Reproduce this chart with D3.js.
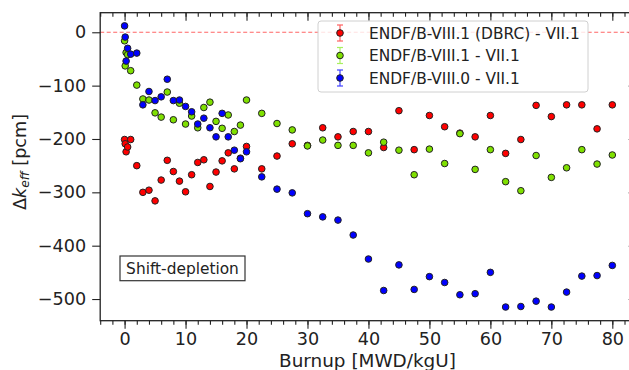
<!DOCTYPE html>
<html>
<head>
<meta charset="utf-8">
<script src="https://cdn.jsdelivr.net/npm/d3@7"></script>
<style>
  body { margin: 0; background: #fff; }
  svg { font-family: 'DejaVu Sans', sans-serif; }
</style>
</head>
<body>
<div class="result"></div>
<script>
// Burnup steps [MWD/kgU]
const burnup = [0, 0.1, 0.25, 0.5, 1, 2,
  3, 4, 5, 6, 7, 8, 9, 10, 11, 12, 13, 14, 15, 16, 17, 18, 19, 20,
  22.5, 25, 27.5, 30, 32.5, 35, 37.5, 40, 42.5, 45, 47.5, 50, 52.5, 55, 57.5, 60,
  62.5, 65, 67.5, 70, 72.5, 75, 77.5, 80];

// Delta k_eff [pcm] for each library difference
const dbrcVII1 = [-201, -209, -224, -215, -201, -250,
  -300, -296, -316, -277, -240, -261, -279, -299, -267, -244, -239, -289, -262, -241, -226, -256, -236, -214,
  -256, -232, -209, -212, -179, -196, -186, -186, -216, -147, -220, -156, -177, -189, -196, -156,
  -227, -201, -137, -158, -136, -136, -181, -136];
const viii1VII1 = [-16, -63, -38, -42, -72, -99,
  -125, -127, -151, -159, -112, -164, -133, -172, -157, -179, -141, -131, -167, -180, -155, -186, -174, -127,
  -152, -171, -183, -213, -202, -212, -212, -226, -206, -221, -267, -219, -246, -190, -257, -220,
  -280, -297, -231, -272, -254, -220, -247, -230];
const viii0VII1 = [12, -9, -54, -30, -41, -39,
  -136, -111, -128, -121, -88, -128, -127, -139, -149, -172, -161, -179, -196, -152, -196, -221, -237, -224,
  -271, -294, -301, -340, -346, -352, -380, -425, -484, -436, -482, -458, -469, -492, -490, -450,
  -515, -514, -504, -515, -487, -457, -456, -437];

const seriesNames = ['ENDF/B-VIII.1 (DBRC) - VII.1', 'ENDF/B-VIII.1 - VII.1', 'ENDF/B-VIII.0 - VII.1'];
const seriesValues = [dbrcVII1, viii1VII1, viii0VII1];
const seriesColors = ['#ff0000', '#7fe000', '#0000ff'];
const barColors = ['#ff6060', '#a8f060', '#4040ff'];

const xTicks = [0, 10, 20, 30, 40, 50, 60, 70, 80];
const yTicks = [0, -100, -200, -300, -400, -500];

// Width and height
const w = 629;
const h = 370;
const pLeft = 100.2, pRight = 636.7, pTop = 12.7, pBottom = 320.7;

const svg = d3.select('.result')
  .append('svg')
  .attr('width', w)
  .attr('height', h);

// Scales
const xScale = d3.scaleLinear().domain([-4, 84]).range([pLeft, pRight]);
const yScale = d3.scaleLinear().domain([-540.6, 36.7]).range([pBottom, pTop]);

// Zero reference line
svg.append('line')
  .attr('x1', pLeft).attr('x2', pRight)
  .attr('y1', yScale(0)).attr('y2', yScale(0))
  .attr('stroke', '#ff3030')
  .attr('stroke-opacity', 0.75)
  .attr('stroke-width', 1.1)
  .attr('stroke-dasharray', '4,2.5');

// Points
svg.append('clipPath').attr('id', 'plotclip')
  .append('rect').attr('x', pLeft).attr('y', pTop).attr('width', pRight - pLeft).attr('height', pBottom - pTop);

const pts = svg.append('g').attr('clip-path', 'url(#plotclip)');
seriesValues.forEach(function (vals, i) {
  pts.selectAll('circle.s' + i)
    .data(vals)
    .enter()
    .append('circle')
    .attr('class', 's' + i)
    .attr('cx', function (d, j) { return xScale(burnup[j]); })
    .attr('cy', function (d) { return yScale(d); })
    .attr('r', 3.3)
    .attr('fill', seriesColors[i])
    .attr('stroke', '#222')
    .attr('stroke-width', 1);
});

// Axes
const minorX = d3.range(-4, 85, 2);
const tickStroke = '#222';

svg.append('g')
  .attr('transform', 'translate(0,' + pBottom + ')')
  .call(d3.axisBottom(xScale).tickValues(minorX).tickSize(4).tickFormat(''))
  .call(function (g) { g.select('.domain').remove(); });

svg.append('g')
  .attr('class', 'x axis')
  .attr('transform', 'translate(0,' + pBottom + ')')
  .call(d3.axisBottom(xScale).tickValues(xTicks).tickSize(8).tickPadding(4))
  .call(function (g) { g.select('.domain').remove(); });

svg.append('g')
  .attr('transform', 'translate(0,' + pTop + ')')
  .call(d3.axisBottom(xScale).tickValues(minorX).tickSize(4).tickFormat(''))
  .call(function (g) { g.select('.domain').remove(); });

svg.append('g')
  .attr('transform', 'translate(0,' + pTop + ')')
  .call(d3.axisBottom(xScale).tickValues(xTicks).tickSize(8).tickFormat(''))
  .call(function (g) { g.select('.domain').remove(); });

svg.append('g')
  .attr('class', 'y axis')
  .attr('transform', 'translate(' + pLeft + ',0)')
  .call(d3.axisLeft(yScale).tickValues(yTicks).tickSize(8).tickPadding(6))
  .call(function (g) { g.select('.domain').remove(); });

svg.append('g')
  .attr('transform', 'translate(' + pRight + ',0)')
  .call(d3.axisLeft(yScale).tickValues(yTicks).tickSize(8).tickFormat(''))
  .call(function (g) { g.select('.domain').remove(); });

svg.selectAll('.tick line').attr('stroke', tickStroke).attr('stroke-width', 1.1);
svg.selectAll('.tick text')
  .attr('fill', '#222')
  .style('font-size', '17.6px')
  .style('font-family', "'DejaVu Sans', sans-serif");

// Frame
svg.append('rect')
  .attr('x', pLeft).attr('y', pTop)
  .attr('width', pRight - pLeft).attr('height', pBottom - pTop)
  .attr('fill', 'none')
  .attr('stroke', '#222')
  .attr('stroke-width', 1.3);

// Axis labels
svg.append('text')
  .attr('x', 367.5)
  .attr('y', 366.5)
  .attr('text-anchor', 'middle')
  .style('font-size', '18.4px')
  .attr('fill', '#222')
  .text('Burnup [MWD/kgU]');

const yl = svg.append('text')
  .attr('transform', 'translate(26,162) rotate(-90)')
  .attr('text-anchor', 'middle')
  .style('font-size', '17.6px')
  .attr('fill', '#222');
yl.append('tspan').text('Δ');
yl.append('tspan').style('font-style', 'italic').text('k');
yl.append('tspan').style('font-style', 'italic').style('font-size', '12.3px').attr('dy', 3).text('eff');
yl.append('tspan').attr('dy', -3).text(' [pcm]');

// Legend
const legend = svg.append('g');
legend.append('rect')
  .attr('x', 318).attr('y', 21)
  .attr('width', 270).attr('height', 71)
  .attr('rx', 3)
  .attr('fill', '#fff')
  .attr('fill-opacity', 0.8)
  .attr('stroke', '#d0d0d0')
  .attr('stroke-width', 1);

seriesNames.forEach(function (name, i) {
  const cy = 33 + i * 22.5;
  const g = legend.append('g');
  g.append('line').attr('x1', 340).attr('x2', 340).attr('y1', cy - 8).attr('y2', cy + 8)
    .attr('stroke', barColors[i]).attr('stroke-width', 1.2);
  g.append('line').attr('x1', 337).attr('x2', 343).attr('y1', cy - 8).attr('y2', cy - 8)
    .attr('stroke', barColors[i]).attr('stroke-width', 1.2);
  g.append('line').attr('x1', 337).attr('x2', 343).attr('y1', cy + 8).attr('y2', cy + 8)
    .attr('stroke', barColors[i]).attr('stroke-width', 1.2);
  g.append('circle').attr('cx', 340).attr('cy', cy).attr('r', 3.3)
    .attr('fill', seriesColors[i]).attr('stroke', '#222').attr('stroke-width', 1);
  g.append('text')
    .attr('x', 369).attr('y', cy + 5.5)
    .style('font-size', '15.4px')
    .attr('fill', '#222')
    .text(name);
});

// Annotation box
svg.append('rect')
  .attr('x', 120).attr('y', 256)
  .attr('width', 125).attr('height', 24.7)
  .attr('fill', '#fff')
  .attr('stroke', '#333')
  .attr('stroke-width', 1.2);
svg.append('text')
  .attr('x', 182.5).attr('y', 273.5)
  .attr('text-anchor', 'middle')
  .style('font-size', '15.4px')
  .attr('fill', '#222')
  .text('Shift-depletion');
</script>
</body>
</html>
